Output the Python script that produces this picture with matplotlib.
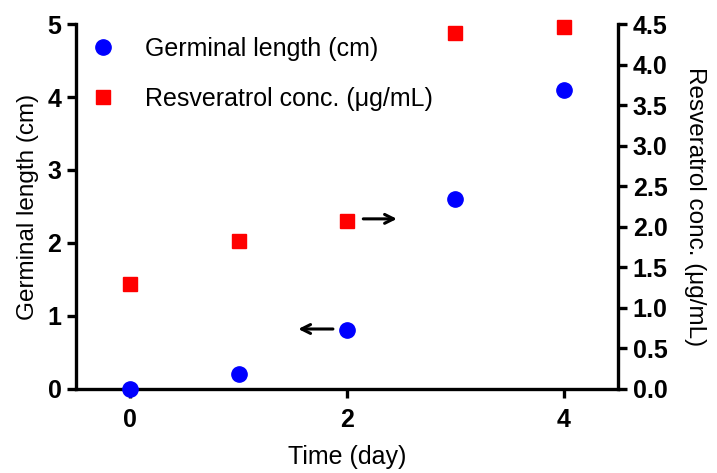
import matplotlib
matplotlib.use("Agg")
import matplotlib.pyplot as plt
from matplotlib.lines import Line2D

plt.rcParams['font.family'] = ['Liberation Sans', 'DejaVu Sans']

days = [0, 1, 2, 3, 4]
germinal_length = [0.0, 0.2, 0.8, 2.6, 4.1]
resveratrol = [1.29, 1.82, 2.07, 4.39, 4.47]
x_ticks = [0, 2, 4]
left_ticks = [0, 1, 2, 3, 4, 5]
right_ticks = [0.0, 0.5, 1.0, 1.5, 2.0, 2.5, 3.0, 3.5, 4.0, 4.5]

fig = plt.figure(figsize=(7.17, 4.73), dpi=100)
ax = fig.add_axes([0.106, 0.178, 0.756, 0.771])
ax2 = ax.twinx()

ax.plot(days, germinal_length, 'o', color='#0000ff', markersize=11, clip_on=False, zorder=5)
ax2.plot(days, resveratrol, 's', color='#ff0000', markersize=10, clip_on=False, zorder=5)

ax.set_xlim(-0.5, 4.5)
ax.set_ylim(0, 5)
ax2.set_ylim(0, 4.5)
ax.set_xticks(x_ticks)
ax.set_yticks(left_ticks)
ax2.set_yticks(right_ticks)
ax2.set_yticklabels([f"{v:.1f}" for v in right_ticks])

for a in (ax, ax2):
    a.spines['top'].set_visible(False)
    for s in a.spines.values():
        s.set_linewidth(2.4)
ax.spines['right'].set_visible(False)
ax2.spines['left'].set_visible(False)
ax2.spines['bottom'].set_visible(False)

ax.tick_params(axis='x', width=2.4, length=6.5, labelsize=18, direction='out', pad=7)
ax.tick_params(axis='y', width=2.4, length=6.5, labelsize=18, direction='out', pad=4)
ax2.tick_params(axis='y', width=2.4, length=6.5, labelsize=18, direction='out', pad=4)
for lab in ax.get_xticklabels() + ax.get_yticklabels() + ax2.get_yticklabels():
    lab.set_fontweight('bold')

ax.set_xlabel('Time (day)', fontsize=18, labelpad=10)
ax.set_ylabel('Germinal length (cm)', fontsize=17.5, labelpad=6)
ax2.set_ylabel('Resveratrol conc. (μg/mL)', fontsize=17.5, rotation=270, labelpad=28)

arrow_kw = dict(arrowstyle='->', color='black', lw=2.2, mutation_scale=16, shrinkA=0, shrinkB=0)
ax.annotate('', xy=(1.55, 0.82), xytext=(1.87, 0.82), arrowprops=arrow_kw)
ax.annotate('', xy=(2.46, 2.33), xytext=(2.15, 2.33), arrowprops=arrow_kw)

handles = [Line2D([], [], marker='o', linestyle='none', color='#0000ff', markersize=11),
           Line2D([], [], marker='s', linestyle='none', color='#ff0000', markersize=10)]
ax.legend(handles, ['Germinal length (cm)', 'Resveratrol conc. (μg/mL)'],
          loc='upper left', frameon=False, fontsize=18, handletextpad=0.85,
          labelspacing=1.05, bbox_to_anchor=(-0.005, 0.993), borderaxespad=0.0,
          handlelength=1.6)

fig.savefig('out.png', dpi=100)
